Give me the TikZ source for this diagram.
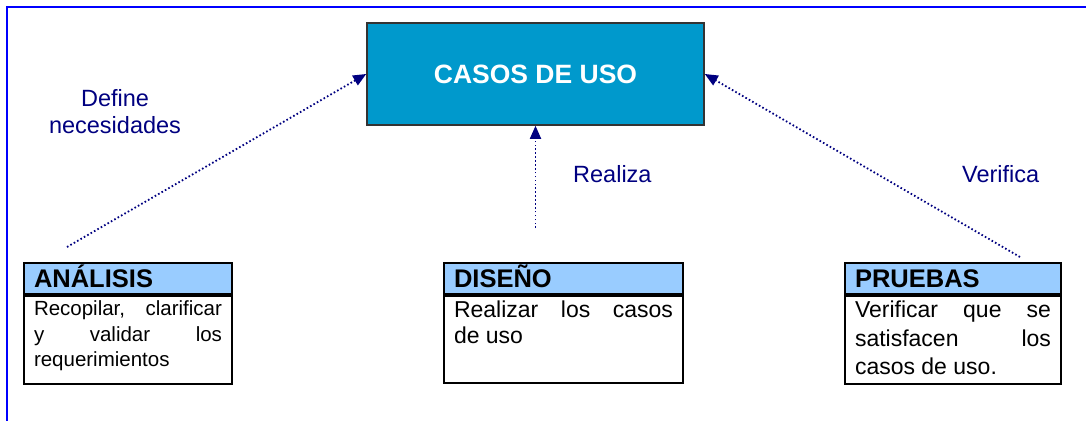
\documentclass[tikz,border=0pt]{standalone}
\usepackage{fontspec}
\setmainfont{Liberation Sans}
\usetikzlibrary{positioning,arrows.meta}
\definecolor{casoazul}{RGB}{0,153,204}
\definecolor{cabecera}{RGB}{153,204,255}
\definecolor{marino}{RGB}{0,0,128}
\definecolor{marco}{RGB}{0,0,255}

\begin{document}
\begin{tikzpicture}[x=1pt,y=1pt,
    casobox/.style={draw=black!80, line width=1.6pt, fill=casoazul, minimum width=337pt, minimum height=102pt, text=white, font=\fontsize{26.5}{30}\selectfont\bfseries},
    headbox/.style={draw, line width=2pt, fill=cabecera, minimum height=31pt, text height=18pt, text depth=0pt, inner ysep=0pt, inner xsep=10pt, align=left, font=\fontsize{25.5}{28}\selectfont\bfseries},
    bodybox/.style={draw, line width=2pt, fill=white, inner xsep=10pt, inner ysep=5pt},
    flecha/.style={marino, line width=1.8pt, dash pattern=on 1.6pt off 2.3pt, -{Triangle[length=13pt,width=11pt]}},
    etiqueta/.style={text=marino, inner sep=0pt, align=center, font=\fontsize{23.5}{27}\selectfont}]
  \useasboundingbox (0,0) rectangle (1086,-420);
  % marco exterior
  \draw[marco, line width=2.6pt] (7,-425) -- (7,-7) -- (1090,-7);

  \node[casobox] (casos) at (535.5,-74) {CASOS DE USO};

  % cajas de las etapas
  \node[headbox, text width=188pt, anchor=north west] (anah) at (23,-262) {ANÁLISIS};
  \node[bodybox, below=0pt of anah] (anab) {\parbox[t][78pt][t]{188pt}{\fontsize{20.5}{25.5}\selectfont
    Recopilar, clarificar\linebreak y validar los\linebreak requerimientos}};

  \node[headbox, text width=219pt, anchor=north west] (dish) at (443,-262) {DISEÑO};
  \node[bodybox, below=0pt of dish] (disb) {\parbox[t][77pt][t]{219pt}{\fontsize{23}{25.5}\selectfont
    Realizar los casos\linebreak de uso}};

  \node[headbox, text width=196pt, anchor=north west] (prueh) at (844,-262) {PRUEBAS};
  \node[bodybox, below=0pt of prueh] (prueb) {\parbox[t][78pt][t]{196pt}{\fontsize{23}{28.5}\selectfont
    Verificar que se\linebreak satisfacen los\linebreak casos de uso.}};

  % flechas
  \coordinate (ini1) at (67,-247);
  \coordinate (ini2) at (535.5,-228);
  \coordinate (ini3) at (1020,-257);
  \draw[flecha] (ini1) -- (casos.west);
  \draw[flecha] (ini2) -- (casos.south);
  \draw[flecha] (ini3) -- (casos.east);

  \node[etiqueta] (lbl1) at (115,-112) {Define\\necesidades};
  \node[etiqueta, anchor=base west] (lbl2) at (573,-182) {Realiza};
  \node[etiqueta, anchor=base west] (lbl3) at (962,-182) {Verifica};
\end{tikzpicture}
\end{document}
